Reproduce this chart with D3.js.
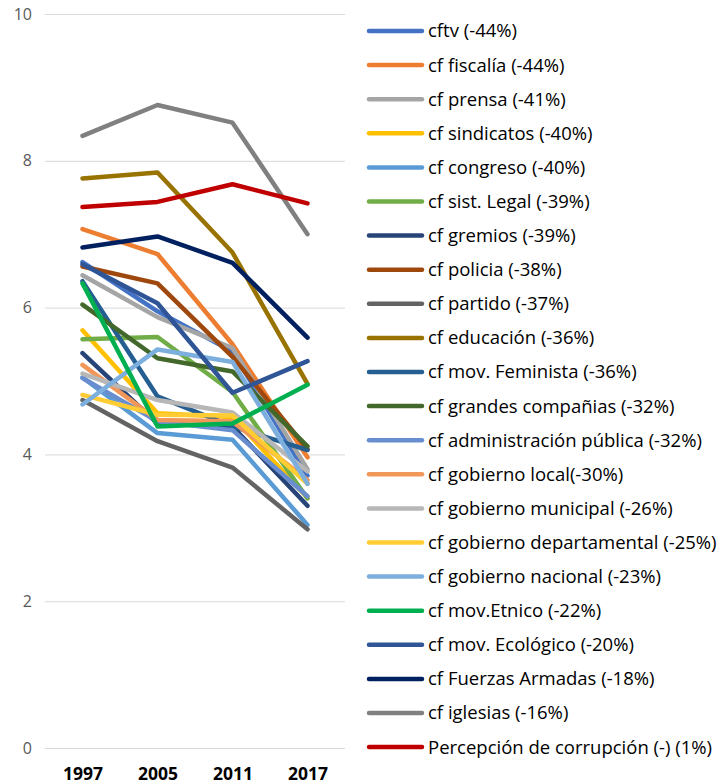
<!DOCTYPE html>
<html>
<head>
<meta charset="utf-8">
<script src="https://cdn.jsdelivr.net/npm/d3@7"></script>
<style>
  body { margin: 0; background: #fff; }
  text { font-family: "Open Sans", sans-serif; }
</style>
</head>
<body>
<div id="chart"></div>
<script>
// years on the x axis
const years = ["1997", "2005", "2011", "2017"];
const yTicks = [0, 2, 4, 6, 8, 10];

// series names (legend order)
const names = [
  "cftv (-44%)", "cf fiscalía (-44%)", "cf prensa (-41%)", "cf sindicatos (-40%)",
  "cf congreso (-40%)", "cf sist. Legal (-39%)", "cf gremios (-39%)", "cf policia (-38%)",
  "cf partido (-37%)", "cf educación (-36%)", "cf mov. Feminista (-36%)",
  "cf grandes compañias (-32%)", "cf administración pública (-32%)", "cf gobierno local(-30%)",
  "cf gobierno municipal (-26%)", "cf gobierno departamental (-25%)", "cf gobierno nacional (-23%)",
  "cf mov.Etnico (-22%)", "cf mov. Ecológico (-20%)", "cf Fuerzas Armadas (-18%)",
  "cf iglesias (-16%)", "Percepción de corrupción (-) (1%)"
];

const colors = [
  "#4472C4", "#ED7D31", "#A5A5A5", "#FFC000", "#5B9BD5", "#70AD47", "#264478", "#9E480E",
  "#636363", "#997300", "#255E91", "#43682B", "#698ED0", "#F1975A", "#B7B7B7", "#FFCD33",
  "#7CAFDD", "#00B050", "#2F5597", "#002060", "#808080", "#C00000"
];

// values per series: 1997, 2005, 2011, 2017
const values = [
  [6.62, 5.95, 5.40, 3.71],
  [7.07, 6.73, 5.50, 3.96],
  [6.44, 5.87, 5.45, 3.80],
  [5.69, 4.56, 4.51, 3.41],
  [5.05, 4.29, 4.20, 3.04],
  [5.57, 5.60, 4.85, 3.40],
  [5.38, 4.42, 4.38, 3.30],
  [6.56, 6.33, 5.33, 4.07],
  [4.74, 4.18, 3.82, 2.98],
  [7.76, 7.84, 6.75, 4.96],
  [6.36, 4.79, 4.38, 4.06],
  [6.04, 5.31, 5.13, 4.11],
  [5.04, 4.45, 4.33, 3.43],
  [5.22, 4.47, 4.45, 3.65],
  [5.10, 4.74, 4.57, 3.77],
  [4.81, 4.54, 4.53, 3.60],
  [4.68, 5.43, 5.26, 3.60],
  [6.33, 4.38, 4.42, 4.95],
  [6.59, 6.06, 4.84, 5.27],
  [6.82, 6.97, 6.61, 5.59],
  [8.34, 8.76, 8.52, 7.00],
  [7.37, 7.44, 7.68, 7.42]
];

const W = 720, H = 784;
const svg = d3.select("#chart").append("svg")
  .attr("width", W).attr("height", H);

const x = d3.scalePoint().domain(years).range([45, 345]).padding(0.5);
const y = d3.scaleLinear().domain([0, 10]).range([748, 14]);

// gridlines + y labels
const yAxis = svg.append("g")
  .attr("transform", "translate(45,0)")
  .call(d3.axisLeft(y).tickValues(yTicks).tickSize(-300).tickFormat(d3.format("d")).tickPadding(13));
yAxis.select(".domain").remove();
yAxis.selectAll(".tick line").attr("stroke", "#D9D9D9").attr("stroke-width", 1);
yAxis.selectAll(".tick text").attr("fill", "#595959").style("font-size", "16px")
  .style("font-family", "Open Sans, sans-serif");

// x labels
const xAxis = svg.append("g")
  .attr("transform", "translate(0,748)")
  .call(d3.axisBottom(x).tickSize(0).tickPadding(20));
xAxis.select(".domain").remove();
xAxis.selectAll(".tick text").attr("fill", "#000").style("font-size", "17.5px")
  .style("font-weight", "bold").style("font-family", "Open Sans, sans-serif");

// lines
const line = d3.line().x((d, i) => x(years[i])).y(d => y(d));
svg.append("g").selectAll("path")
  .data(values)
  .join("path")
  .attr("d", line)
  .attr("fill", "none")
  .attr("stroke", (d, i) => colors[i])
  .attr("stroke-width", 4.5)
  .attr("stroke-linejoin", "round")
  .attr("stroke-linecap", "round");

// legend
const lg = svg.append("g").selectAll("g")
  .data(names)
  .join("g")
  .attr("transform", (d, i) => `translate(369,${31 + i * 34.1})`);
lg.append("line")
  .attr("x1", 0).attr("x2", 53)
  .attr("stroke", (d, i) => colors[i])
  .attr("stroke-width", 4.5)
  .attr("stroke-linecap", "round");
lg.append("text")
  .attr("x", 59).attr("dy", "0.35em")
  .attr("fill", "#000")
  .style("font-size", "18.5px")
  .text(d => d);
</script>
</body>
</html>
